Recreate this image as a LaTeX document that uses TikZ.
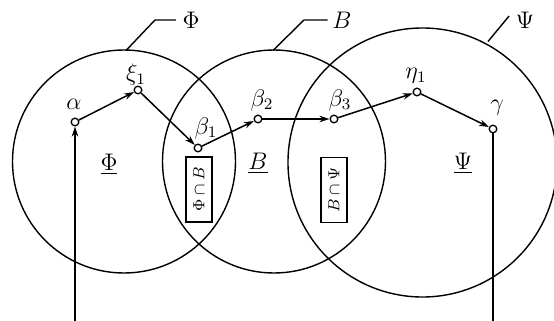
\documentclass[tikz,border=0pt]{standalone}
\usetikzlibrary{arrows.meta}
\begin{document}
\begin{tikzpicture}[x=0.5pt,y=-0.5pt,
  line width=0.75pt,
  pt/.style={circle,draw,fill=white,inner sep=0pt,minimum size=3.8pt,line width=0.65pt},
  lbl/.style={inner sep=0pt,font=\fontsize{12}{14}\selectfont},
  arr/.style={-{Stealth[length=5pt,width=3.2pt]}},
  ring/.style={line width=0.7pt},
  lead/.style={line width=0.7pt},
  setbox/.style={draw,rotate=90,minimum width=32.5pt,minimum height=13pt,inner sep=0pt,line width=0.65pt,font=\fontsize{8.5}{10}\selectfont}]
\useasboundingbox (0,0) rectangle (554,321);
% circles
\coordinate (cPhi) at (124,161.5);
\coordinate (cB) at (274,161.5);
\coordinate (cPsi) at (422.5,162.5);
\draw[ring] (cPhi) circle[radius=55.75pt];
\draw[ring] (cB) circle[radius=55.75pt];
\draw[ring] (cPsi) circle[radius=67.25pt];
% leader labels
\node[lbl] (tPhi) at (191,20) {$\Phi$};
\node[lbl] (tB) at (342,20) {$B$};
\node[lbl] (tPsi) at (525,20) {$\Psi$};
\coordinate (pPhi) at (126,50.5);
\coordinate (kPhi) at (155,20);
\coordinate (pB) at (273,50.5);
\coordinate (kB) at (304,20);
\coordinate (pPsi) at (488,41.5);
\draw[lead] (pPhi) -- (kPhi) -- ([xshift=-3pt]tPhi.west);
\draw[lead] (pB) -- (kB) -- ([xshift=-2pt]tB.west);
\draw[lead] (pPsi) -- ([xshift=-3pt,yshift=2pt]tPsi.west);
% region labels
\node[lbl] (uPhi) at (109,164) {$\underline{\Phi}$};
\node[lbl] (uB) at (258,163) {$\underline{B}$};
\node[lbl] (uPsi) at (463,163) {$\underline{\Psi}$};
% boxes
\node[setbox] (bx1) at (199,189.5) {$\Phi\cap B$};
\node[setbox] (bx2) at (334,190) {$B\cap\Psi$};
% points
\node[pt] (alpha) at (75,122) {};
\node[pt] (xi) at (138,90) {};
\node[pt] (b1) at (198,148) {};
\node[pt] (b2) at (258,119) {};
\node[pt] (b3) at (334,119) {};
\node[pt] (eta) at (417,92) {};
\node[pt] (gam) at (493,129) {};
\node[lbl] (lalpha) at (74,104) {$\alpha$};
\node[lbl] (lxi) at (136,75) {$\xi_1$};
\node[lbl] (lb1) at (206,128) {$\beta_1$};
\node[lbl] (lb2) at (262,100) {$\beta_2$};
\node[lbl] (lb3) at (340,100) {$\beta_3$};
\node[lbl] (leta) at (416,76) {$\eta_1$};
\node[lbl] (lgam) at (497,108) {$\gamma$};
% path
\coordinate (s0) at (75,321);
\coordinate (s1) at (493,321);
\draw[arr] (s0) -- (alpha);
\draw[arr] (alpha) -- (xi);
\draw[arr] (xi) -- (b1);
\draw[arr] (b1) -- (b2);
\draw[arr] (b2) -- (b3);
\draw[arr] (b3) -- (eta);
\draw[arr] (eta) -- (gam);
\draw (gam) -- (s1);
\end{tikzpicture}
\end{document}
